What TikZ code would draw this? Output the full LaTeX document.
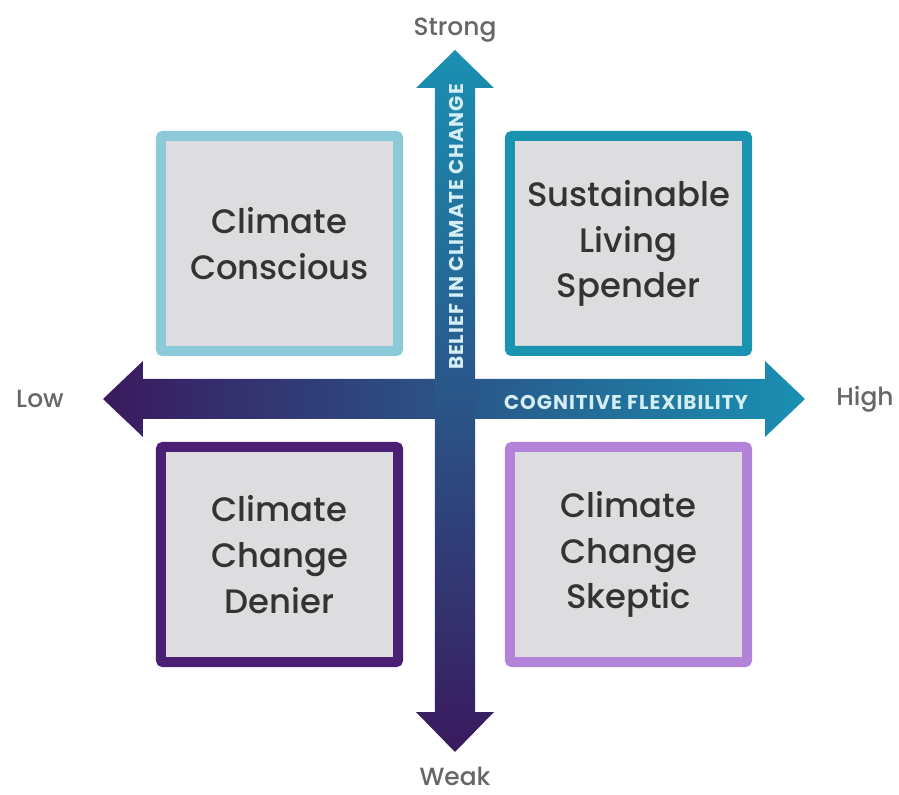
\documentclass[tikz,border=0pt]{standalone}
\usepackage{fontspec}
\setmainfont{Poppins}
\newfontfamily\boxfont{Poppins Medium}
\newfontfamily\axisfont[LetterSpace=5]{Poppins}
\usetikzlibrary{positioning}

\definecolor{oceanteal}{HTML}{1A90B2}
\definecolor{deeppurple}{HTML}{3A1A5E}
\definecolor{crossblue}{HTML}{2B6792}
\definecolor{skyline}{HTML}{8DCAD9}
\definecolor{tealline}{HTML}{1A93B0}
\definecolor{plumline}{HTML}{4B1F74}
\definecolor{lilacline}{HTML}{B283D8}
\definecolor{boxgray}{HTML}{DDDDDF}
\definecolor{textgray}{HTML}{333333}
\definecolor{labelgray}{HTML}{666666}
\definecolor{axistext}{HTML}{D5EEF5}

\tikzset{
  quad/.style={draw, line width=10bp, fill=boxgray, rounded corners=2bp,
    minimum width=237bp, minimum height=215bp, align=center, text=textgray,
    font=\boxfont\fontsize{34}{46}\selectfont},
  endlabel/.style={text=labelgray, inner sep=1bp, font=\boxfont\fontsize{25}{27}\selectfont},
  axislabel/.style={text=axistext, font=\axisfont\bfseries\fontsize{20}{22}\selectfont}
}

\begin{document}
\begin{tikzpicture}[x=1bp, y=1bp]
\useasboundingbox (-455,-396) rectangle (444,399);

% horizontal axis: low -> high
\coordinate (lowtip) at (-352,0);
\coordinate (hightip) at (350,0);
\shade[left color=deeppurple, middle color=crossblue, right color=oceanteal]
  (lowtip) -- (-312,38) -- (-312,20) -- (310,20) -- (310,38) -- (hightip)
  -- (310,-38) -- (310,-20) -- (-312,-20) -- (-312,-38) -- cycle;

% vertical axis: weak -> strong
\coordinate (strongtip) at (0,349);
\coordinate (weaktip) at (0,-353);
\shade[top color=oceanteal, middle color=crossblue, bottom color=deeppurple]
  (strongtip) -- (39,311) -- (20,311) -- (20,-313) -- (39,-313) -- (weaktip)
  -- (-39,-313) -- (-20,-313) -- (-20,311) -- (-39,311) -- cycle;

\node[axislabel, rotate=90] (belief) at (1,172) {BELIEF IN CLIMATE CHANGE};
\node[axislabel] (flex) at (171,-3) {COGNITIVE FLEXIBILITY};

\node[endlabel] (strong) at (0,369) {Strong};
\node[endlabel] (weak) at (0,-377) {Weak};
\node[endlabel] (low) at (-415,0) {Low};
\node[endlabel] (high) at (410,0) {High};

% the four quadrants
\node[quad, draw=skyline] (conscious) at (-175.5,155.5) {Climate\\Conscious};
\node[quad, draw=tealline] (spender) at (173.5,155.5) {Sustainable\\Living\\Spender};
\node[quad, draw=plumline] (denier) at (-175.5,-155.5) {Climate\\Change\\Denier};
\node[quad, draw=lilacline] (skeptic) at (173.5,-155.5) {Climate\\Change\\Skeptic};
\end{tikzpicture}
\end{document}
